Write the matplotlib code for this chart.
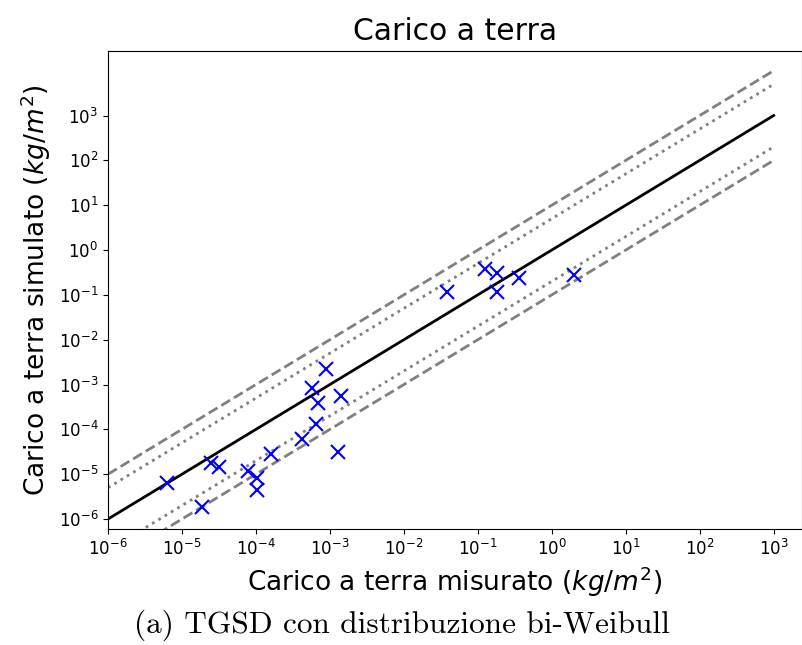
import numpy as np
import matplotlib
matplotlib.use("Agg")
import matplotlib.pyplot as plt

# valori misurati / simulati (kg/m^2)
misurato = [6.3e-6, 1.85e-5, 2.5e-5, 3.2e-5, 7.9e-5, 1.02e-4, 1.02e-4, 1.6e-4,
            8.8e-4, 5.8e-4, 6.8e-4, 1.4e-3, 6.5e-4, 4.2e-4, 1.3e-3,
            0.0385, 0.124, 0.179, 0.179, 0.36, 1.98]
simulato = [6.3e-6, 1.87e-6, 1.74e-5, 1.46e-5, 1.19e-5, 8.1e-6, 4.4e-6, 2.8e-5,
            2.2e-3, 8.5e-4, 3.8e-4, 5.5e-4, 1.3e-4, 6.0e-5, 3.2e-5,
            0.114, 0.37, 0.30, 0.114, 0.24, 0.28]

# linee di riferimento: 1:1, fattore 5 e fattore 10
bisettrice = [1e-6, 1e3]
fattori_tratt = [10, 0.1]
fattori_punt = [5, 0.2]

fig = plt.figure(figsize=(8.03, 6.45), dpi=100)
ax = fig.add_axes([0.1345, 0.18, 0.864, 0.741])

x = np.array(bisettrice)
ax.plot(x, x, "k-", lw=2)
for f in fattori_tratt:
    ax.plot(x, x * f, "--", color="grey", lw=2)
for f in fattori_punt:
    ax.plot(x, x * f, ":", color="grey", lw=2)
ax.plot(misurato, simulato, "bx", ms=10, mew=1.5)

ax.set_xscale("log")
ax.set_yscale("log")
ax.set_xlim(1e-6, 10 ** 3.38)
ax.set_ylim(10 ** -6.22, 10 ** 4.44)
dec = [10.0 ** k for k in range(-6, 4)]
ax.set_xticks(dec)
ax.set_yticks(dec)
ax.minorticks_off()
ax.tick_params(labelsize=12)

ax.set_title("Carico a terra", fontsize=21.5, pad=8)
ax.set_xlabel("Carico a terra misurato ($kg/m^2$)", fontsize=19)
ax.set_ylabel("Carico a terra simulato ($kg/m^2$)", fontsize=19)

fig.text(0.5, 0.031, "(a) TGSD con distribuzione bi-Weibull", ha="center",
         va="center", fontsize=22.5, family="cmr10")

fig.savefig("out.png", dpi=100)
